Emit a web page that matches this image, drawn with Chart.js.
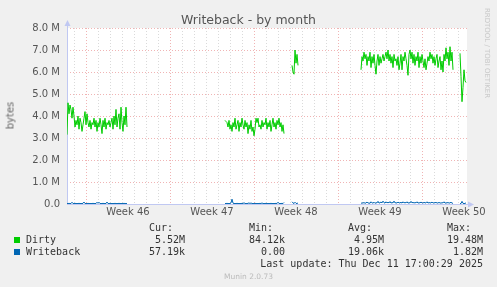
<!DOCTYPE html>
<html>
<head>
<meta charset="utf-8">
<title>Writeback - by month</title>
<script src="https://cdn.jsdelivr.net/npm/chart.js@4.4.1/dist/chart.umd.min.js"></script>
<style>
  body { margin: 0; background: #f0f0f0; }
  #wrap { position: relative; width: 497px; height: 287px; overflow: hidden; font-family: "DejaVu Sans", sans-serif; }
  #wrap canvas { position: absolute; left: 0; top: 0; }
  .t { position: absolute; white-space: pre; line-height: normal; }
  .mono { font-family: "DejaVu Sans Mono", monospace; font-size: 10px; color: #333; }
  .r { text-align: right; }
  .sq { position: absolute; width: 6px; height: 6px; }
</style>
</head>
<body>
<div id="wrap">
  <canvas id="myChart" width="497" height="287"></canvas>

  <div class="t" style="left:0;width:497px;top:12px;text-align:center;font-size:12.5px;color:#555">Writeback - by month</div>
  <div class="t" style="left:-10px;width:40px;top:110px;text-align:center;font-size:10px;font-weight:normal;color:#666;transform:rotate(-90deg)">bytes</div>
  <div class="t" style="left:432px;width:110px;top:49px;text-align:center;font-size:7px;color:#c8c8c8;transform:rotate(90deg)">RRDTOOL / TOBI OETIKER</div>

  <div class="t mono" style="left:149px;top:222px">Cur:</div>
  <div class="t mono" style="left:249px;top:222px">Min:</div>
  <div class="t mono" style="left:348px;top:222px">Avg:</div>
  <div class="t mono" style="left:447px;top:222px">Max:</div>

  <div class="sq" style="left:14px;top:237px;background:#00cc00"></div>
  <div class="t mono" style="left:26px;top:234px">Dirty</div>
  <div class="t mono r" style="right:312px;top:234px">5.52M</div>
  <div class="t mono r" style="right:212px;top:234px">84.12k</div>
  <div class="t mono r" style="right:113px;top:234px">4.95M</div>
  <div class="t mono r" style="right:14px;top:234px">19.48M</div>

  <div class="sq" style="left:14px;top:249px;background:#0066b3"></div>
  <div class="t mono" style="left:26px;top:246px">Writeback</div>
  <div class="t mono r" style="right:312px;top:246px">57.19k</div>
  <div class="t mono r" style="right:212px;top:246px">0.00</div>
  <div class="t mono r" style="right:113px;top:246px">19.06k</div>
  <div class="t mono r" style="right:14px;top:246px">1.82M</div>

  <div class="t mono r" style="right:14px;top:258px">Last update: Thu Dec 11 17:00:29 2025</div>
  <div class="t" style="left:0;width:497px;top:272px;text-align:center;font-size:7.5px;color:#bbb">Munin 2.0.73</div>
</div>

<script>
// hours relative to Mon Nov 10 00:00 (start of week 46), one sample every 2h
var xMin = -38;
var xMax = 762;
var weekLabels = ['Week 46', 'Week 47', 'Week 48', 'Week 49', 'Week 50'];
var weekCenters = [84, 252, 420, 588, 756];

// start hour of each stretch of data (gaps between them have no data)
var segStarts = [-38, 278, 412, 550, 748];

// Dirty, in M bytes
var dirty1 = [3.15, 4.6, 4.1, 4.5, 4.3, 3.9, 4.4, 4.0, 3.5, 3.8, 3.6, 4.0, 3.4, 3.9, 3.7, 3.3, 3.6, 3.9, 4.2, 3.6,
  4.1, 3.7, 3.5, 3.8, 3.4, 3.7, 3.6, 3.9, 3.5, 3.8, 3.3, 3.7, 3.5, 3.9, 3.6, 3.2, 3.8, 3.5, 3.9, 3.4,
  3.7, 3.6, 3.8, 3.5, 3.7, 3.9, 3.4, 4.0, 3.6, 4.3, 3.5, 3.9, 4.1, 3.4, 4.4, 3.7, 3.3, 4.0, 3.6, 4.4, 3.5];
var dirty2 = [3.8, 3.75, 3.7, 3.5, 3.8, 3.4, 3.6, 3.3, 3.7, 3.5, 3.9, 3.4, 3.6, 3.8, 3.3, 3.7, 3.5, 3.9, 3.6, 3.4,
  3.8, 3.5, 3.7, 3.2, 3.6, 3.4, 3.8, 3.3, 3.5, 3.1, 3.4, 3.9, 3.7, 3.9, 3.5, 3.6, 3.4, 3.8, 3.5, 3.7,
  3.6, 3.9, 3.4, 3.7, 3.5, 3.8, 3.3, 3.6, 3.9, 3.5, 3.7, 3.4, 3.8, 3.6, 3.9, 3.5, 3.7, 3.3, 3.6, 3.2];
var dirty3 = [6.3, 6.0, 5.9, 7.0, 6.4, 6.8, 6.3];
var dirty4 = [6.1, 6.7, 6.5, 6.9, 6.6, 6.8, 6.3, 6.7, 6.5, 6.9, 6.2, 6.7, 6.4, 6.8, 6.3, 5.9, 6.5, 6.8, 6.3, 6.7,
  6.4, 6.6, 6.8, 6.5, 6.7, 6.9, 6.6, 7.0, 6.5, 6.8, 6.4, 6.7, 6.2, 6.8, 6.5, 6.6, 6.3, 6.7, 6.1, 6.4,
  6.8, 6.1, 6.7, 6.5, 6.9, 6.6, 6.3, 5.85, 6.8, 7.0, 6.6, 6.9, 6.4, 6.8, 6.3, 6.7, 6.5, 6.9, 6.2, 6.7,
  6.4, 6.8, 6.5, 6.2, 6.6, 6.1, 6.4, 6.7, 6.5, 6.9, 6.6, 6.8, 6.4, 6.7, 6.3, 6.6, 6.8, 6.2, 6.5, 6.7,
  6.1, 6.5, 6.0, 6.8, 6.5, 7.1, 6.6, 6.9, 6.3, 7.15, 6.5, 6.9, 6.1];
var dirty5 = [6.85, 5.8, 4.65, 5.3, 6.1, 5.6, 5.52];

// Writeback, in M bytes
var wb1 = [0.02, 0.02, 0.03, 0.02, 0.02, 0.08, 0.02, 0.02, 0.03, 0.02, 0.02, 0.02, 0.03, 0.02, 0.02, 0.02, 0.03, 0.09, 0.02, 0.02,
  0.02, 0.03, 0.02, 0.02, 0.02, 0.02, 0.03, 0.02, 0.02, 0.02, 0.08, 0.03, 0.08, 0.02, 0.02, 0.02, 0.03, 0.02, 0.02, 0.02,
  0.09, 0.02, 0.02, 0.03, 0.02, 0.02, 0.02, 0.02, 0.03, 0.02, 0.02, 0.02, 0.03, 0.02, 0.02, 0.02, 0.02, 0.03, 0.02, 0.02, 0.02];
var wb2 = [0.02, 0.02, 0.03, 0.02, 0.02, 0.02, 0.05, 0.22, 0.04, 0.02, 0.02, 0.02, 0.03, 0.02, 0.02, 0.02, 0.02, 0.03, 0.02, 0.06,
  0.02, 0.02, 0.02, 0.03, 0.05, 0.02, 0.05, 0.02, 0.02, 0.02, 0.03, 0.02, 0.02, 0.02, 0.02, 0.03, 0.02, 0.05, 0.02, 0.02,
  0.02, 0.03, 0.02, 0.02, 0.02, 0.02, 0.03, 0.02, 0.02, 0.02, 0.02, 0.03, 0.02, 0.08, 0.02, 0.02, 0.02, 0.03, 0.02, 0.07];
var wb3 = [0.10, 0.05, 0.02, 0.08, 0.03, 0.02, 0.05];
var wb4 = [0.03, 0.05, 0.04, 0.07, 0.03, 0.05, 0.09, 0.04, 0.05, 0.03, 0.10, 0.05, 0.04, 0.08, 0.03, 0.06, 0.05, 0.12, 0.04, 0.06,
  0.09, 0.05, 0.13, 0.06, 0.04, 0.10, 0.05, 0.08, 0.05, 0.11, 0.04, 0.07, 0.05, 0.13, 0.05, 0.06, 0.04, 0.09, 0.05, 0.05,
  0.08, 0.04, 0.10, 0.05, 0.07, 0.05, 0.10, 0.04, 0.06, 0.05, 0.12, 0.05, 0.08, 0.04, 0.07, 0.05, 0.10, 0.04, 0.06, 0.05,
  0.09, 0.05, 0.04, 0.08, 0.05, 0.05, 0.10, 0.04, 0.07, 0.05, 0.05, 0.09, 0.04, 0.06, 0.05, 0.08, 0.04, 0.05, 0.07, 0.05,
  0.04, 0.06, 0.05, 0.10, 0.04, 0.05, 0.05, 0.07, 0.04, 0.05, 0.08, 0.04, 0.03];
var wb5 = [0.02, 0.02, 0.12, 0.03, 0.02, 0.02, 0.057];

function buildSeries(segs) {
  var pts = [];
  for (var s = 0; s < segs.length; s++) {
    var start = segStarts[s];
    for (var i = 0; i < segs[s].length; i++) {
      pts.push({ x: start + i * 2, y: segs[s][i] * 1e6 });
    }
    // break the line before the next stretch
    pts.push({ x: start + segs[s].length * 2, y: null });
  }
  return pts;
}

var dataSource = {
  datasets: [
    {
      label: 'Dirty',
      data: buildSeries([dirty1, dirty2, dirty3, dirty4, dirty5]),
      borderColor: '#00cc00',
      borderWidth: 1
    },
    {
      label: 'Writeback',
      data: buildSeries([wb1, wb2, wb3, wb4, wb5]),
      borderColor: '#0066b3',
      borderWidth: 1
    }
  ]
};

var axisColor = '#c0c8f2';
var majorGrid = '#f0b4b4';
var minorGrid = '#dadada';

var muninLook = {
  id: 'muninLook',
  beforeDraw: function (chart) {
    var ctx = chart.ctx, a = chart.chartArea;
    ctx.save();
    ctx.fillStyle = '#f0f0f0';
    ctx.fillRect(0, 0, chart.width, chart.height);
    ctx.fillStyle = '#ffffff';
    ctx.fillRect(a.left, a.top, a.right - a.left, a.bottom - a.top);
    ctx.restore();
  },
  beforeDatasetsDraw: function (chart) {
    var ctx = chart.ctx, a = chart.chartArea;
    var x0 = Math.round(a.left) + 0.5, y0 = Math.round(a.bottom) + 0.5;
    ctx.save();
    ctx.strokeStyle = axisColor;
    ctx.fillStyle = axisColor;
    ctx.lineWidth = 1;
    ctx.beginPath();
    ctx.moveTo(x0, y0);
    ctx.lineTo(x0, a.top - 4);
    ctx.moveTo(x0, y0);
    ctx.lineTo(a.right + 4, y0);
    ctx.stroke();
    // arrow heads
    ctx.beginPath();
    ctx.moveTo(x0 - 3, a.top - 2);
    ctx.lineTo(x0 + 3, a.top - 2);
    ctx.lineTo(x0, a.top - 8);
    ctx.closePath();
    ctx.fill();
    ctx.beginPath();
    ctx.moveTo(a.right + 1, y0 - 3);
    ctx.lineTo(a.right + 1, y0 + 3);
    ctx.lineTo(a.right + 7, y0);
    ctx.closePath();
    ctx.fill();
    ctx.restore();
  }
};

var tickFont = { family: 'DejaVu Sans', size: 10 };

new Chart(document.getElementById('myChart').getContext('2d'), {
  type: 'line',
  data: dataSource,
  plugins: [muninLook],
  options: {
    responsive: false,
    animation: false,
    devicePixelRatio: 1,
    spanGaps: false,
    elements: { point: { radius: 0 }, line: { tension: 0 } },
    layout: { padding: { left: 0, top: 28, right: 30, bottom: 0 } },
    plugins: { legend: { display: false }, tooltip: { enabled: false } },
    scales: {
      x: {
        type: 'linear',
        min: xMin,
        max: xMax,
        afterBuildTicks: function (scale) {
          var t = [];
          for (var v = -36; v <= 756; v += 12) t.push({ value: v });
          scale.ticks = t;
        },
        afterFit: function (scale) { scale.height = 83; },
        grid: {
          drawTicks: false,
          lineWidth: 1,
          color: function (c) {
            var v = c.tick ? c.tick.value : 0;
            if (v % 168 === 0) return majorGrid;
            if (v % 24 === 0) return minorGrid;
            return 'rgba(0,0,0,0)';
          }
        },
        border: { display: false, dash: [1, 2] },
        ticks: {
          autoSkip: false,
          maxRotation: 0,
          minRotation: 0,
          padding: 2,
          color: '#555',
          font: tickFont,
          callback: function (value) {
            var k = weekCenters.indexOf(value);
            return k >= 0 ? weekLabels[k] : '';
          }
        }
      },
      y: {
        min: 0,
        max: 8e6,
        afterFit: function (scale) { scale.width = 67; },
        grid: {
          drawTicks: false,
          lineWidth: 1,
          color: function (c) {
            var v = c.tick ? c.tick.value : 0;
            return v % 1e6 === 0 ? majorGrid : minorGrid;
          }
        },
        border: { display: false, dash: [1, 2] },
        ticks: {
          stepSize: 5e5,
          padding: 7,
          color: '#555',
          font: tickFont,
          callback: function (value) {
            if (value % 1e6 !== 0) return '';
            return value === 0 ? '0.0' : (value / 1e6).toFixed(1) + ' M';
          }
        }
      }
    }
  }
});
</script>
</body>
</html>
